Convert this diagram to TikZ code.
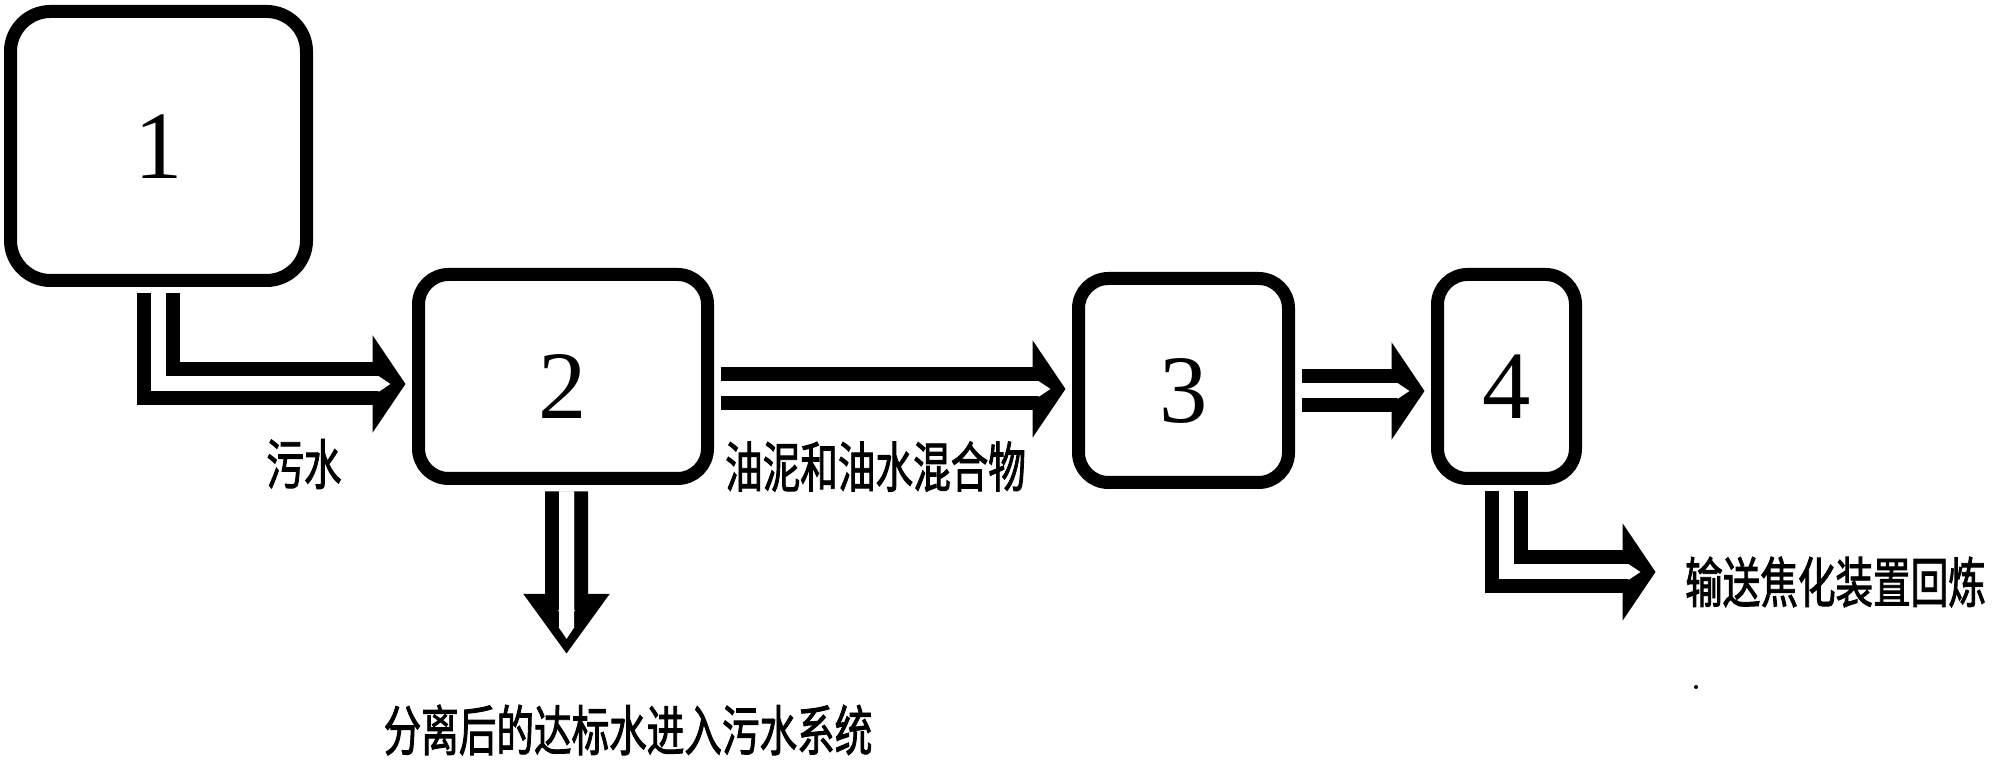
\documentclass[tikz,border=0pt]{standalone}
\usepackage{fontspec}
\setmainfont{Liberation Serif}
\newfontfamily\cjk[FakeStretch=0.69, FakeBold=1.6]{Noto Sans CJK SC}
\usetikzlibrary{arrows.meta}

\begin{document}
\begin{tikzpicture}[
  box/.style={draw, line width=0.13cm, rounded corners=0.3cm, inner sep=0pt,
    text height=0.85cm, text depth=0pt, font=\fontsize{27.5}{30}\selectfont},
  pipe/.style={draw, line width=0.43cm, shorten <=0.065cm, shorten >=0.065cm,
    -{Triangle[length=0.33cm, width=0.96cm]},
    postaction={draw=white, line width=0.15cm, shorten <=0.065cm, shorten >=0.215cm,
      -{Triangle[length=0.12cm, width=0.15cm]}}},
  drain/.style={pipe, -{Triangle[length=0.6cm, width=0.82cm]},
    postaction={draw=white, line width=0.15cm, shorten <=0.065cm, shorten >=0.305cm,
      -{Triangle[length=0.2cm, width=0.15cm]}}},
  lbl/.style={inner sep=0pt, font=\cjk\fontsize{15.5}{18}\selectfont}]
\useasboundingbox (0,0) rectangle (19.93,7.63);

% units
\node[box, minimum width=2.96cm, minimum height=2.69cm, text height=0.65cm, rounded corners=0.4cm] (b1) at (1.585,6.17) {1};
\node[box, minimum width=2.89cm, minimum height=2.04cm] (b2) at (5.63,3.865) {2};
\node[box, minimum width=2.10cm, minimum height=2.04cm] (b3) at (11.835,3.825) {3};
\node[box, minimum width=1.38cm, minimum height=2.04cm] (b4) at (15.065,3.865) {4};

% free ends
\coordinate (sewer) at (5.665,1.025);
\coordinate (coker) at (16.62,1.91);

% flows
\draw[pipe] (b1.south) |- ([yshift=-0.075cm]b2.west);
\draw[pipe] ([yshift=-0.125cm]b2.east) -- ([yshift=-0.125cm]b2.east -| b3.west);
\draw[pipe] ([yshift=-0.105cm]b3.east) -- ([yshift=-0.105cm]b3.east -| b4.west);
\draw[drain] ([xshift=0.035cm]b2.south) -- (sewer);
\draw[pipe] (b4.south) |- (coker);

% labels
\node[lbl] (waste) at (3.04,2.99) {污水};
\node[lbl] (sludge) at (8.755,2.965) {油泥和油水混合物};
\node[lbl] (clean) at (6.28,0.33) {分离后的达标水进入污水系统};
\node[lbl] (recycle) at (18.355,1.81) {输送焦化装置回炼};

\fill (16.96,0.76) circle (0.02);
\end{tikzpicture}
\end{document}
